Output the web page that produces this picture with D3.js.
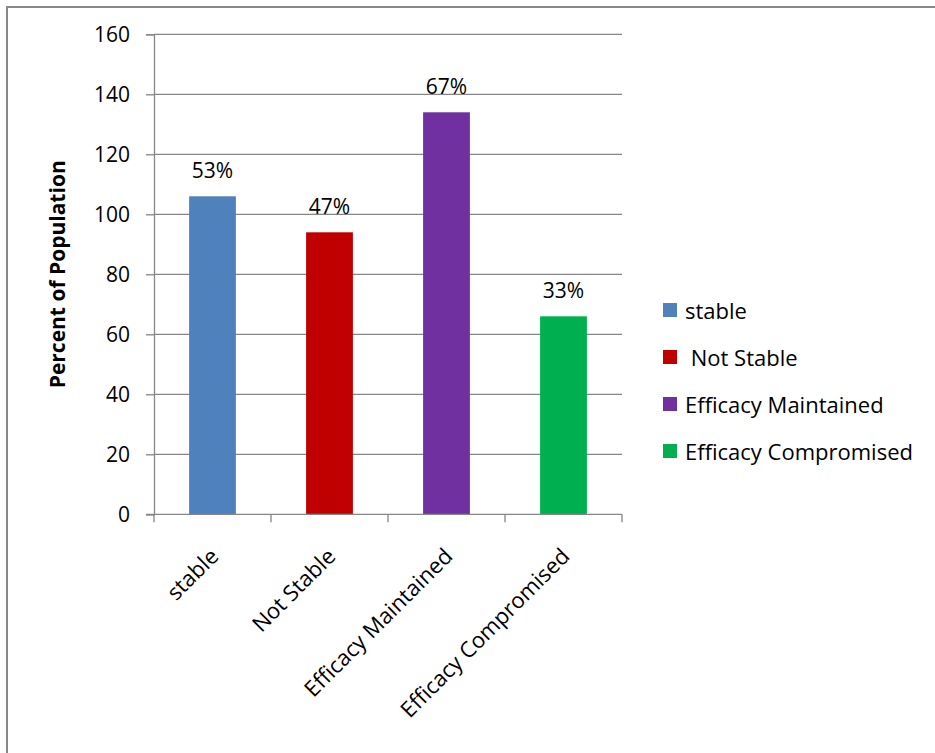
<!DOCTYPE html>
<html><head><meta charset="utf-8">
<script src="https://cdn.jsdelivr.net/npm/d3@7"></script>
<style>body{margin:0;background:#fff}svg{display:block}text{font-family:"Open Sans",sans-serif}</style>
</head><body>
<script>
const categories = ["stable", "Not Stable", "Efficacy Maintained", "Efficacy Compromised"];
const legendLabels = ["stable", " Not Stable", "Efficacy Maintained", "Efficacy Compromised"];
const values = [106, 94, 134, 66];
const valueLabels = ["53%", "47%", "67%", "33%"];
const colors = ["#4F81BD", "#C00000", "#7030A0", "#00B050"];
const yTicks = [0, 20, 40, 60, 80, 100, 120, 140, 160];

const W = 935, H = 753;
const svg = d3.select("body").append("svg").attr("width", W).attr("height", H);

svg.append("path").attr("d", "M7,753 V7 H935").attr("fill", "none").attr("stroke", "#888").attr("stroke-width", 2);

const x0 = 154, x1 = 622, yTop = 34.3, yBot = 514.3;
const x = d3.scaleBand().domain(categories).range([x0, x1]).paddingInner(0.6).paddingOuter(0.3);
const y = d3.scaleLinear().domain([0, 160]).range([yBot, yTop]);
const grey = "#868686";
const FS = 21, FL = 22;

svg.append("g").selectAll("line").data(yTicks.slice(1)).join("line")
  .attr("x1", x0).attr("x2", x1).attr("y1", d => y(d)).attr("y2", d => y(d))
  .attr("stroke", grey).attr("stroke-width", 1.3);

const yAxis = svg.append("g").attr("transform", `translate(${x0},0)`)
  .call(d3.axisLeft(y).tickValues(yTicks).tickSize(8).tickPadding(16));
yAxis.select(".domain").attr("stroke", grey).attr("stroke-width", 1.3);
yAxis.selectAll(".tick line").attr("stroke", grey).attr("stroke-width", 1.3);
yAxis.selectAll(".tick text").attr("font-size", FS).attr("fill", "#000").attr("font-family", "'Open Sans',sans-serif");

svg.append("g").selectAll("rect").data(values).join("rect")
  .attr("x", (d, i) => x(categories[i])).attr("width", x.bandwidth())
  .attr("y", d => y(d)).attr("height", d => yBot - y(d))
  .attr("fill", (d, i) => colors[i]);

svg.append("g").selectAll("text").data(values).join("text")
  .attr("x", (d, i) => x(categories[i]) + x.bandwidth() / 2)
  .attr("y", d => y(d) - 18)
  .attr("text-anchor", "middle").attr("font-size", FS).text((d, i) => valueLabels[i]);

const step = (x1 - x0) / categories.length;
svg.append("line").attr("x1", x0 - 8).attr("x2", x1).attr("y1", yBot).attr("y2", yBot)
  .attr("stroke", grey).attr("stroke-width", 1.3);
svg.append("g").selectAll("line").data(d3.range(categories.length + 1)).join("line")
  .attr("x1", i => x0 + i * step).attr("x2", i => x0 + i * step)
  .attr("y1", yBot).attr("y2", yBot + 8).attr("stroke", grey).attr("stroke-width", 1.3);

svg.append("g").selectAll("text").data(categories).join("text")
  .attr("transform", d => `translate(${x(d) + x.bandwidth() / 2 + 2},${yBot + 38}) rotate(-45)`)
  .attr("text-anchor", "end").attr("font-size", FL).attr("dy", "0.35em").text(d => d);

svg.append("text").attr("transform", `translate(65,${(yTop + yBot) / 2}) rotate(-90)`)
  .attr("text-anchor", "middle").attr("font-size", 21).attr("font-weight", "bold").text("Percent of Population");

const lg = svg.append("g").selectAll("g").data(legendLabels).join("g")
  .attr("transform", (d, i) => `translate(663,${310 + i * 47})`);
lg.append("rect").attr("x", 0).attr("y", -7).attr("width", 14).attr("height", 14).attr("fill", (d, i) => colors[i]);
lg.append("text").attr("x", 22).attr("y", 1).attr("dy", "0.35em").attr("font-size", FL)
  .attr("xml:space", "preserve").style("white-space", "pre").text(d => d);
</script>
</body></html>
